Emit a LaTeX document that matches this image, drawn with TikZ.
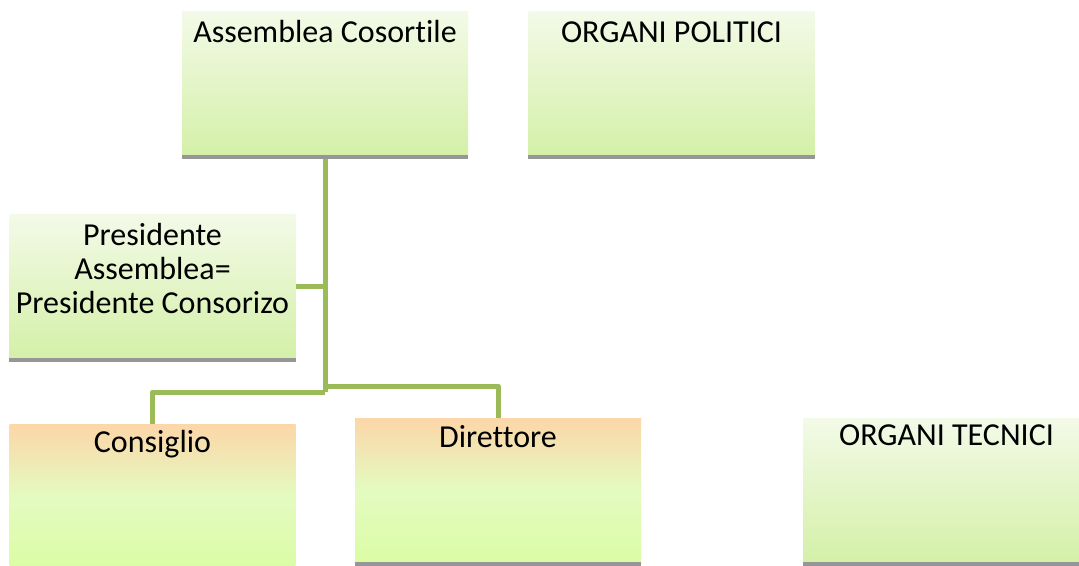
\documentclass[tikz,border=0pt]{standalone}
\usepackage{fontspec}
\setmainfont{Carlito}[RawFeature=-liga]
\definecolor{conn}{RGB}{155,187,89}
\definecolor{gtop}{RGB}{243,250,232}
\definecolor{gbot}{RGB}{212,240,168}
\definecolor{otop}{RGB}{252,214,168}
\definecolor{omid}{RGB}{228,251,192}
\definecolor{obot}{RGB}{219,252,166}
\definecolor{barcol}{RGB}{150,150,150}
\tikzset{
  greenbox/.style={rectangle, draw=none, minimum width=286pt, minimum height=144pt, inner sep=0pt,
    top color=gtop, bottom color=gbot},
  orangebox/.style={rectangle, draw=none, minimum width=286pt, minimum height=144pt, inner sep=0pt,
    top color=otop, bottom color=obot, middle color=omid},
  boxtext/.style={anchor=base, align=center, inner sep=0pt, font=\fontsize{32}{34}\selectfont},
  connector/.style={draw=conn, line width=5pt, line join=round}
}
\begin{document}
\begin{tikzpicture}[x=1pt,y=-1pt]
\useasboundingbox (0,0) rectangle (1079,565);
% boxes
\node[greenbox] (asm) at (325,83) {};
\node[greenbox] (pol) at (671.5,83) {};
\node[greenbox] (pres) at (152.5,286) {};
\node[orangebox] (cons) at (152.5,496) {};
\node[orangebox] (dir) at (498,490) {};
\node[greenbox] (tec) at (946.5,490) {};
% shadow bars
\foreach \b in {asm,pol,pres,cons,dir,tec}{
  \fill[barcol] (\b.south west) rectangle ([yshift=-4pt]\b.south east);
}
% texts
\node[boxtext] (asmt) at (325,42) {Assemblea Cosortile};
\node[boxtext] (polt) at (671.5,42) {ORGANI POLITICI};
\node[boxtext] (prest1) at (152.5,245) {Presidente};
\node[boxtext] (prest2) at (152.5,279) {Assemblea=};
\node[boxtext] (prest3) at (152.5,313) {Presidente Consorizo};
\node[boxtext] (const) at (152.5,452) {Consiglio};
\node[boxtext] (dirt) at (498,447) {Direttore};
\node[boxtext] (tect) at (946.5,445) {ORGANI TECNICI};
% connectors
\coordinate (jp) at (325,286);
\coordinate (jl) at (325,392);
\coordinate (jr) at (325,386);
\draw[connector] ([yshift=-4pt]asm.south) -- (jl);
\draw[connector] (pres.east) -- (jp);
\draw[connector] (jl) -| (cons.north);
\draw[connector] (jr) -| (dir.north);
\end{tikzpicture}
\end{document}
